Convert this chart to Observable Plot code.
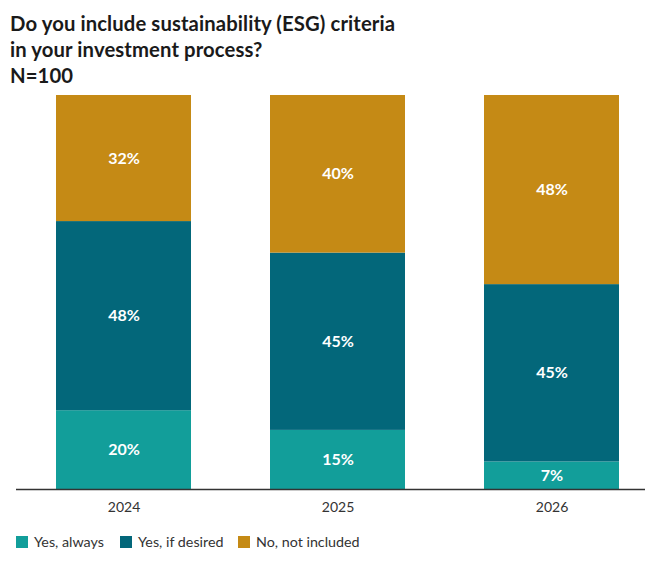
<!DOCTYPE html>
<html>
<head>
<meta charset="utf-8">
<script src="https://cdn.jsdelivr.net/npm/d3@7"></script>
<script src="https://cdn.jsdelivr.net/npm/@observablehq/plot@0.6"></script>
<style>
  html, body { margin: 0; padding: 0; background: #fff; }
  body { width: 646px; height: 561px; overflow: hidden; font-family: Lato, "Noto Sans", sans-serif; }
  #title { position: absolute; left: 10px; top: 10px; font-size: 20.3px; font-weight: 700; line-height: 26px; color: #1a1a1a; letter-spacing: 0.1px; }
  #chart { position: absolute; left: 0; top: 88px; }
  #legend { position: absolute; left: 16px; top: 533px; display: flex; font-size: 14.3px; color: #333; }
  .item { display: flex; align-items: center; }
  .sw { width: 12px; height: 12px; margin-right: 6px; }
</style>
</head>
<body>
<div id="title">Do you include sustainability (ESG) criteria<br>in your investment process?<br>N=100</div>
<div id="chart"></div>
<div id="legend"></div>
<script>
const years = ["2024", "2025", "2026"];
const seriesNames = ["Yes, always", "Yes, if desired", "No, not included"];
const colors = ["#129e9a", "#03677a", "#c58a15"];
const yesAlways = [20, 15, 7];
const yesIfDesired = [48, 45, 45];
const notIncluded = [32, 40, 48];

const seriesValues = [yesAlways, yesIfDesired, notIncluded];
const data = [];
seriesNames.forEach((s, i) => years.forEach((y, j) => data.push({year: y, series: s, value: seriesValues[i][j]})));

const chart = Plot.plot({
  width: 646,
  height: 436,
  marginLeft: 16,
  marginRight: 1,
  marginTop: 7,
  marginBottom: 35,
  style: {fontFamily: "Lato, 'Noto Sans', sans-serif"},
  x: {domain: years, range: [34, 641.5], paddingInner: 0.369, paddingOuter: 0.1, label: null},
  y: {domain: [0, 100], axis: null},
  color: {domain: seriesNames, range: colors},
  marks: [
    Plot.barY(data, {x: "year", y: "value", fill: "series", z: "series"}),
    Plot.text(data, Plot.stackY({x: "year", y: "value", z: "series", text: d => d.value + "%", fill: "white", fontWeight: 700, fontSize: 16})),
    Plot.ruleY([0], {stroke: "#333", strokeWidth: 1.5}),
    Plot.axisX({tickSize: 0, tickPadding: 13, fontSize: 14, fill: "#333", label: null})
  ]
});
document.getElementById("chart").appendChild(chart);

const legend = document.getElementById("legend");
const itemWidths = [104, 118, 130];
seriesNames.forEach((s, i) => {
  const it = document.createElement("div");
  it.className = "item";
  it.style.width = itemWidths[i] + "px";
  it.innerHTML = `<div class="sw" style="background:${colors[i]}"></div><span>${s}</span>`;
  legend.appendChild(it);
});
</script>
</body>
</html>
